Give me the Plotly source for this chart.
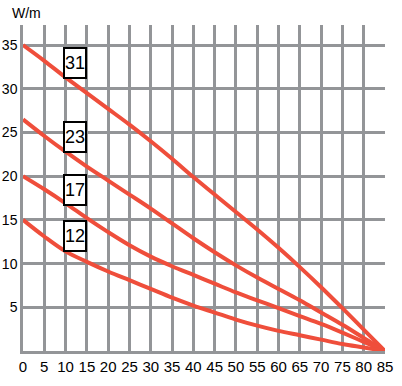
import plotly.graph_objects as go

x_vals = [0, 5, 10, 15, 20, 25, 30, 35, 40, 45, 50, 55, 60, 65, 70, 75, 80, 85]
w31 = [35.0, 33.2, 31.3, 29.5, 27.7, 25.9, 24.0, 22.0, 19.9, 17.9, 15.9, 13.9, 11.8, 9.6, 7.3, 4.9, 2.45, 0.0]
w23 = [26.5, 24.6, 22.8, 21.1, 19.5, 17.9, 16.3, 14.6, 12.9, 11.3, 9.8, 8.4, 7.1, 5.8, 4.4, 3.0, 1.5, 0.0]
w17 = [20.0, 18.5, 16.9, 15.2, 13.6, 12.1, 10.8, 9.7, 8.7, 7.7, 6.7, 5.8, 4.9, 4.0, 3.1, 2.1, 1.05, 0.0]
w12 = [15.0, 13.1, 11.4, 10.2, 9.1, 8.1, 7.1, 6.1, 5.2, 4.4, 3.6, 2.9, 2.3, 1.8, 1.3, 0.8, 0.4, 0.0]
series = {"31": w31, "23": w23, "17": w17, "12": w12}
label_x = [12.2, 12.2, 12.2, 12.2]
label_y = [33.0, 24.5, 18.4, 13.2]
x_ticks = list(range(0, 90, 5))
y_ticks = [5, 10, 15, 20, 25, 30, 35]

RED = "#EF4E3B"
GRID = "#939598"
FONT = "Liberation Sans, Arial, sans-serif"

fig = go.Figure()
for name, ys in series.items():
    fig.add_trace(go.Scatter(x=x_vals, y=ys, mode="lines", name=name,
                             line=dict(color=RED, width=4, shape="spline", smoothing=1.0),
                             showlegend=False))

for (name, lx, ly) in zip(series.keys(), label_x, label_y):
    fig.add_annotation(x=lx, y=ly, text=name, showarrow=False,
                       font=dict(family=FONT, size=18, color="black"),
                       bgcolor="white", bordercolor="black", borderwidth=2,
                       borderpad=0, width=20, height=28)

fig.add_annotation(xref="paper", yref="paper", x=-0.035, y=1.0, yshift=12,
                   xanchor="left", yanchor="middle", text="W/m", showarrow=False,
                   font=dict(family=FONT, size=14, color="black"))

fig.update_xaxes(range=[0, 85], tickvals=x_ticks, ticktext=[str(v) for v in x_ticks],
                 showgrid=True, gridcolor=GRID, gridwidth=2.5,
                 showline=True, linecolor=GRID, linewidth=2.5,
                 zeroline=False, ticks="", ticklabelstandoff=0, tickangle=0,
                 automargin=False,
                 tickfont=dict(family=FONT, size=15, color="black"))
fig.update_yaxes(range=[0, 37.3], tickvals=y_ticks, ticktext=[str(v) for v in y_ticks],
                 showgrid=True, gridcolor=GRID, gridwidth=2.5,
                 showline=True, linecolor=GRID, linewidth=2.5,
                 zeroline=False, ticks="", ticklabelstandoff=0,
                 automargin=False,
                 tickfont=dict(family=FONT, size=14, color="black"))

fig.update_layout(width=402, height=386, margin=dict(l=23, r=17, t=25, b=35),
                  plot_bgcolor="white", paper_bgcolor="white")

fig.write_html("out.html")
